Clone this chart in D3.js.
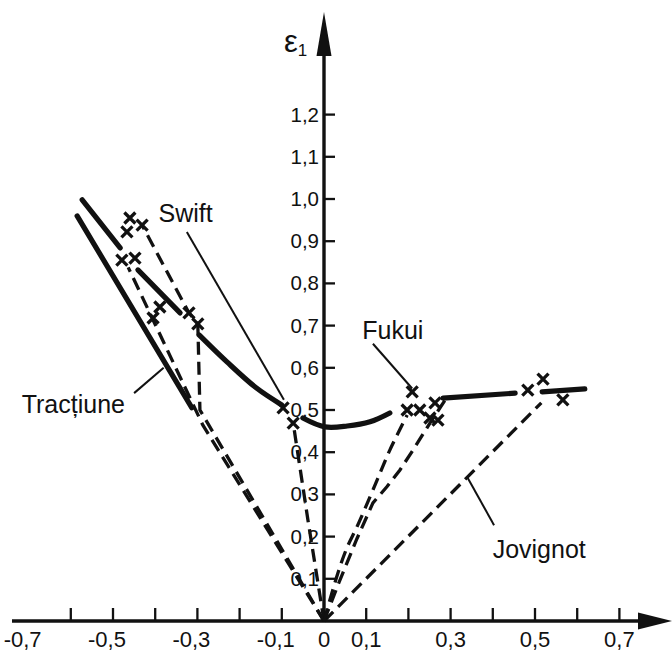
<!DOCTYPE html>
<html>
<head>
<meta charset="utf-8">
<script src="https://cdn.jsdelivr.net/npm/d3@7"></script>
<style>
  body { margin: 0; background: #fff; }
  svg { display: block; }
  text { font-family: "Liberation Sans", Arial, Helvetica, sans-serif; fill: #111; }
</style>
</head>
<body>
<svg id="chart" width="672" height="651"></svg>
<script>
// ---- axis ticks and labels ----
const xTickValues = [-0.6, -0.5, -0.4, -0.3, -0.2, -0.1, 0.1, 0.2, 0.3, 0.4, 0.5, 0.6, 0.7];
const xLabelValues = [-0.7, -0.5, -0.3, -0.1, 0, 0.1, 0.3, 0.5, 0.7];
const yTickValues = [0.1, 0.2, 0.3, 0.4, 0.5, 0.6, 0.7, 0.8, 0.9, 1.0, 1.1, 1.2];

// ---- measured points (ε2, ε1) ----
const crossE2 = [-0.460, -0.467, -0.431, -0.479, -0.448, -0.389, -0.405, -0.320, -0.299, -0.097, -0.073,
                 0.209, 0.197, 0.227, 0.263, 0.251, 0.270, 0.483, 0.519, 0.566];
const crossE1 = [0.955, 0.922, 0.938, 0.855, 0.860, 0.744, 0.718, 0.730, 0.704, 0.505, 0.469,
                 0.543, 0.500, 0.500, 0.517, 0.481, 0.476, 0.547, 0.573, 0.524];

// ---- forming limit curves (solid) ----
const tractiuneE2 = [-0.585, -0.313];
const tractiuneE1 = [0.960, 0.505];
const upperAE2 = [-0.573, -0.483];
const upperAE1 = [0.998, 0.884];
const upperBE2 = [-0.441, -0.341];
const upperBE1 = [0.832, 0.730];
const swiftCurveE2 = [-0.296, -0.230, -0.160, -0.100];
const swiftCurveE1 = [0.678, 0.614, 0.552, 0.512];
const bottomCurveE2 = [-0.050, 0.002, 0.055, 0.109, 0.156];
const bottomCurveE1 = [0.481, 0.460, 0.462, 0.472, 0.493];
const fukuiCurveE2 = [0.282, 0.453];
const fukuiCurveE1 = [0.528, 0.540];
const jovignotCurveE2 = [0.517, 0.618];
const jovignotCurveE1 = [0.543, 0.550];

// ---- strain paths (dashed) ----
const pathL1E2 = [0, -0.287, -0.464];
const pathL1E1 = [0, 0.464, 0.838];
const pathL2E2 = [0, -0.294, -0.299, -0.320, -0.431];
const pathL2E1 = [0, 0.500, 0.704, 0.730, 0.938];
const pathSwiftE2 = [0, -0.038, -0.073];
const pathSwiftE1 = [0, 0.239, 0.469];
const pathR1E2 = [0, 0.033, 0.055, 0.078, 0.109, 0.133, 0.156, 0.197];
const pathR1E1 = [0, 0.114, 0.175, 0.223, 0.294, 0.351, 0.405, 0.488];
const pathR2E2 = [0, 0.035, 0.078, 0.116, 0.149, 0.180, 0.211, 0.251, 0.290];
const pathR2E1 = [0, 0.090, 0.195, 0.280, 0.318, 0.358, 0.405, 0.469, 0.528];
const pathJovE2 = [0, 0.515];
const pathJovE1 = [0, 0.517];

// ---- labels with leader lines ----
const labelNames = ["Swift", "Fukui", "Tracțiune", "Jovignot"];
const labelE2 = [-0.328, 0.163, -0.594, 0.510];
const labelE1 = [0.968, 0.690, 0.514, 0.170];
const leaderFromE2 = [-0.325, 0.116, -0.450, 0.403];
const leaderFromE1 = [0.922, 0.657, 0.540, 0.227];
const leaderToE2 = [-0.095, 0.209, -0.380, 0.340];
const leaderToE1 = [0.524, 0.551, 0.600, 0.340];

const svg = d3.select("#chart");
const x = d3.scaleLinear().domain([-0.7, 0.7]).range([324 - 295.4, 324 + 295.4]);
const y = d3.scaleLinear().domain([0, 1.2]).range([621, 621 - 506.4]);

const zip = (a, b) => a.map((v, i) => [v, b[i]]);
const line = d3.line().x(d => x(d[0])).y(d => y(d[1]));
const smooth = d3.line().x(d => x(d[0])).y(d => y(d[1])).curve(d3.curveCatmullRom.alpha(0.5));
const fmt = v => v === 0 ? "0" : d3.format(".1f")(v).replace(".", ",").replace("−", "-");

// ---- axes ----
const ax = svg.append("g").attr("stroke", "#111").attr("fill", "#111");
ax.append("line").attr("x1", 12).attr("x2", 650).attr("y1", y(0)).attr("y2", y(0)).attr("stroke-width", 3.4);
ax.append("line").attr("x1", x(0)).attr("x2", x(0)).attr("y1", y(0)).attr("y2", 40).attr("stroke-width", 3.4);
ax.append("path").attr("stroke", "none")
  .attr("d", `M${x(0)},12 L${x(0) + 7.5},56 L${x(0) - 7.5},56 Z`);
ax.append("path").attr("stroke", "none")
  .attr("d", `M672,${y(0)} L638,${y(0) - 8.5} L638,${y(0) + 8.5} Z`);

ax.selectAll(".xt").data(xTickValues).join("line")
  .attr("x1", d => x(d)).attr("x2", d => x(d))
  .attr("y1", y(0)).attr("y2", y(0) - 13).attr("stroke-width", 2.3);
ax.selectAll(".yt").data(yTickValues).join("line")
  .attr("x1", x(0)).attr("x2", x(0) + 11)
  .attr("y1", d => y(d)).attr("y2", d => y(d)).attr("stroke-width", 2.3);

svg.append("g").selectAll("text").data(xLabelValues).join("text")
  .attr("x", d => x(d) + (d < 0 ? -6 : 0)).attr("y", 647)
  .attr("text-anchor", "middle").attr("font-size", 22)
  .text(fmt);
svg.append("g").selectAll("text").data(yTickValues).join("text")
  .attr("x", x(0) - 5).attr("y", d => y(d) + 7)
  .attr("text-anchor", "end").attr("font-size", 20.5)
  .text(fmt);

const yTitle = svg.append("text").attr("x", 284).attr("y", 52).attr("font-size", 31);
yTitle.append("tspan").text("ε");
yTitle.append("tspan").attr("font-size", 17).attr("dy", 4).text("1");

// ---- strain paths ----
const dashed = svg.append("g").attr("fill", "none").attr("stroke", "#111")
  .attr("stroke-width", 3.3).attr("stroke-dasharray", "13 7").attr("stroke-linecap", "butt");
[[pathL1E2, pathL1E1], [pathL2E2, pathL2E1], [pathSwiftE2, pathSwiftE1],
 [pathR2E2, pathR2E1], [pathJovE2, pathJovE1]].forEach(([a, b]) =>
  dashed.append("path").attr("d", line(zip(a, b))));
dashed.append("path").attr("d", smooth(zip(pathR1E2, pathR1E1)));

// ---- limit curves ----
const solid = svg.append("g").attr("fill", "none").attr("stroke", "#111")
  .attr("stroke-width", 5.2).attr("stroke-linecap", "round");
[[tractiuneE2, tractiuneE1], [upperAE2, upperAE1], [upperBE2, upperBE1],
 [fukuiCurveE2, fukuiCurveE1], [jovignotCurveE2, jovignotCurveE1]].forEach(([a, b]) =>
  solid.append("path").attr("d", line(zip(a, b))));
[[swiftCurveE2, swiftCurveE1], [bottomCurveE2, bottomCurveE1]].forEach(([a, b]) =>
  solid.append("path").attr("d", smooth(zip(a, b))));

// ---- measured points ----
svg.append("g").attr("stroke", "#111").attr("stroke-width", 3.3).attr("fill", "none")
  .selectAll("path").data(zip(crossE2, crossE1)).join("path")
  .attr("transform", d => `translate(${x(d[0])},${y(d[1])})`)
  .attr("d", "M-5.5,-5.5L5.5,5.5M5.5,-5.5L-5.5,5.5");

// ---- labels and leaders ----
const lab = svg.append("g");
labelNames.forEach((name, i) => {
  lab.append("line")
    .attr("x1", x(leaderFromE2[i])).attr("y1", y(leaderFromE1[i]))
    .attr("x2", x(leaderToE2[i])).attr("y2", y(leaderToE1[i]))
    .attr("stroke", "#111").attr("stroke-width", 2);
  lab.append("text")
    .attr("x", x(labelE2[i])).attr("y", y(labelE1[i]) + 9)
    .attr("text-anchor", "middle").attr("font-size", 25)
    .text(name);
});
</script>
</body>
</html>
